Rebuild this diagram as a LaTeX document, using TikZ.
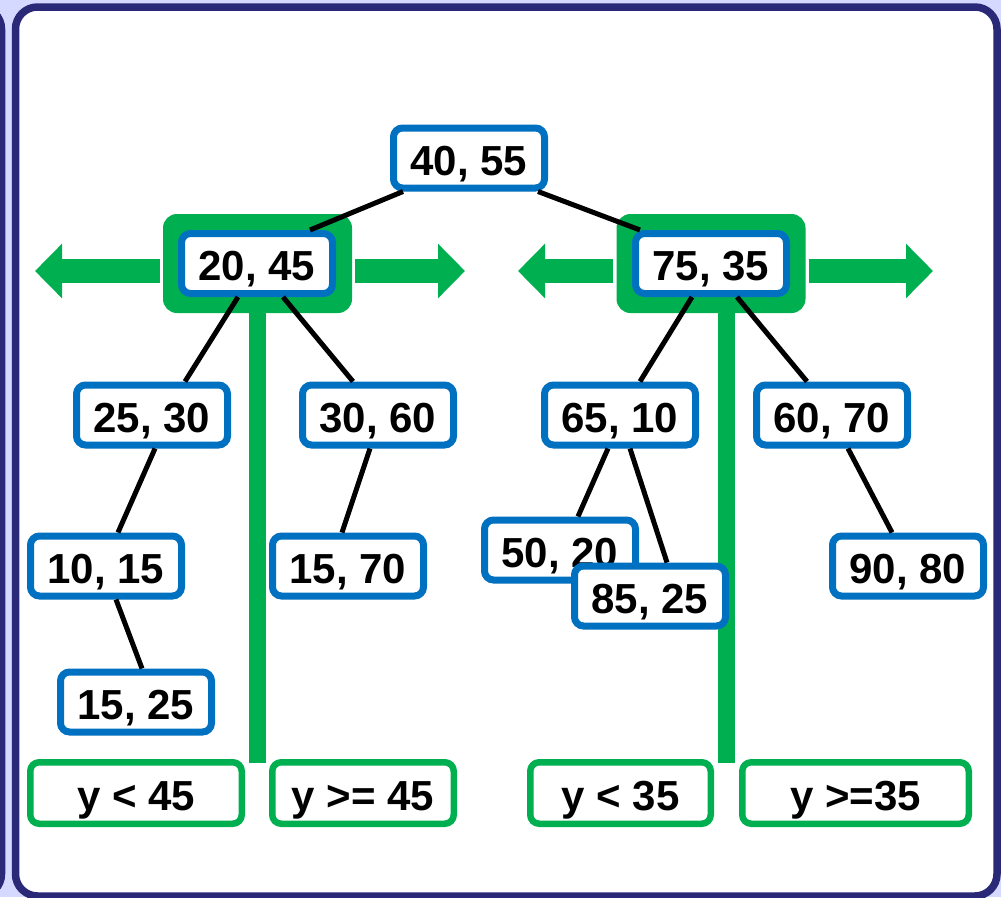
\documentclass[tikz,border=0pt]{standalone}
\usepackage{fontspec}
\setmainfont{Liberation Sans}
\usetikzlibrary{arrows.meta}
\definecolor{kblue}{RGB}{0,112,192}
\definecolor{kgreen}{RGB}{0,176,80}
\definecolor{knavy}{RGB}{41,41,120}
\definecolor{klav}{RGB}{214,217,255}

\begin{document}
\begin{tikzpicture}[x=1pt, y=-1pt,
	pt/.style={draw=kblue, line width=7pt, fill=white, rounded corners=9pt, minimum width=151pt, minimum height=60pt, inner sep=0pt, font=\fontsize{42}{48}\selectfont\bfseries, text height=34pt, text depth=0pt},
	half/.style={pt, draw=kgreen, line width=6.5pt, minimum height=61.5pt},
	hl/.style={fill=kgreen, rounded corners=14pt, minimum width=189pt, minimum height=99pt, inner sep=0pt},
	bar/.style={kgreen, line width=17pt},
	push/.style={kgreen, line width=24pt, -{Triangle[length=27pt,width=53pt]}},
	edge/.style={line width=5pt}]
	\fill[klav] (0,0) rectangle (1001,897);
	\useasboundingbox (0,0) rectangle (1001,897);
	\draw[knavy, line width=7.5pt, rounded corners=22pt] (-100,7) rectangle (1.5,896);
	\draw[knavy, line width=7.5pt, fill=white, rounded corners=22pt] (15.5,7) rectangle (997,896);

	% split highlights
	\node[hl] (GA) at (257.5,263.5) {};
	\node[hl] (GB) at (711,263.5) {};
	\coordinate (EA) at (257.5,763);
	\coordinate (EB) at (726.5,763);
	\draw[bar] (GA.south) -- (EA);
	\draw[bar] ([xshift=15.5pt]GB.south) -- (EB);
	\coordinate (TA1) at (35,271);
	\coordinate (TA2) at (465,271);
	\coordinate (TB1) at (518,271);
	\coordinate (TB2) at (933,271);
	\draw[push] ([xshift=-3pt,yshift=-7.5pt]GA.west) -- (TA1);
	\draw[push] ([xshift=3pt,yshift=-7.5pt]GA.east) -- (TA2);
	\draw[push] ([xshift=-3pt,yshift=-7.5pt]GB.west) -- (TB1);
	\draw[push] ([xshift=3pt,yshift=-7.5pt]GB.east) -- (TB2);

	\node[pt] (R) at (469,158) {40, 55};
	\node[pt] (A) at (257,263.5) {20, 45};
	\node[pt] (B) at (711,263.5) {75, 35};
	\node[pt] (A1) at (152,415) {25, 30};
	\node[pt] (A2) at (378,415) {30, 60};
	\node[pt] (B1) at (620,415) {65, 10};
	\node[pt] (B2) at (832,415) {60, 70};
	\node[pt] (A11) at (106,566) {10, 15};
	\node[pt] (A21) at (348,566) {15, 70};
	\node[pt] (B11) at (560,550) {50, 20};
	\node[pt] (B12) at (650,596) {85, 25};
	\node[pt] (B21) at (908,566) {90, 80};
	\node[pt] (A111) at (136,702) {15, 25};

	\draw[edge] ([xshift=-66pt]R.south) -- ([xshift=53pt]A.north);
	\draw[edge] ([xshift=69pt]R.south) -- ([xshift=-71pt]B.north);
	\draw[edge] ([xshift=-19pt]A.south) -- ([xshift=33pt]A1.north);
	\draw[edge] ([xshift=26pt]A.south) -- ([xshift=-25pt]A2.north);
	\draw[edge] ([xshift=3pt]A1.south) -- ([xshift=12pt]A11.north);
	\draw[edge] ([xshift=10pt]A11.south) -- ([xshift=6pt]A111.north);
	\draw[edge] ([xshift=-8pt]A2.south) -- ([xshift=-6pt]A21.north);
	\draw[edge] ([xshift=-19pt]B.south) -- ([xshift=20pt]B1.north);
	\draw[edge] ([xshift=26pt]B.south) -- ([xshift=-25pt]B2.north);
	\draw[edge] ([xshift=-12pt]B1.south) -- ([xshift=18pt]B11.north);
	\draw[edge] ([xshift=10pt]B1.south) -- ([xshift=17pt]B12.north);
	\draw[edge] ([xshift=16pt]B2.south) -- ([xshift=-16pt]B21.north);

	\node[half, minimum width=211.5pt] (YA1) at (136,793) {y < 45};
	\node[half, minimum width=181.5pt] (YA2) at (363,793) {y >= 45};
	\node[half, minimum width=180.5pt] (YB1) at (620.5,793) {y < 35};
	\node[half, minimum width=226.5pt] (YB2) at (855.5,793) {y >=35};
\end{tikzpicture}
\end{document}
